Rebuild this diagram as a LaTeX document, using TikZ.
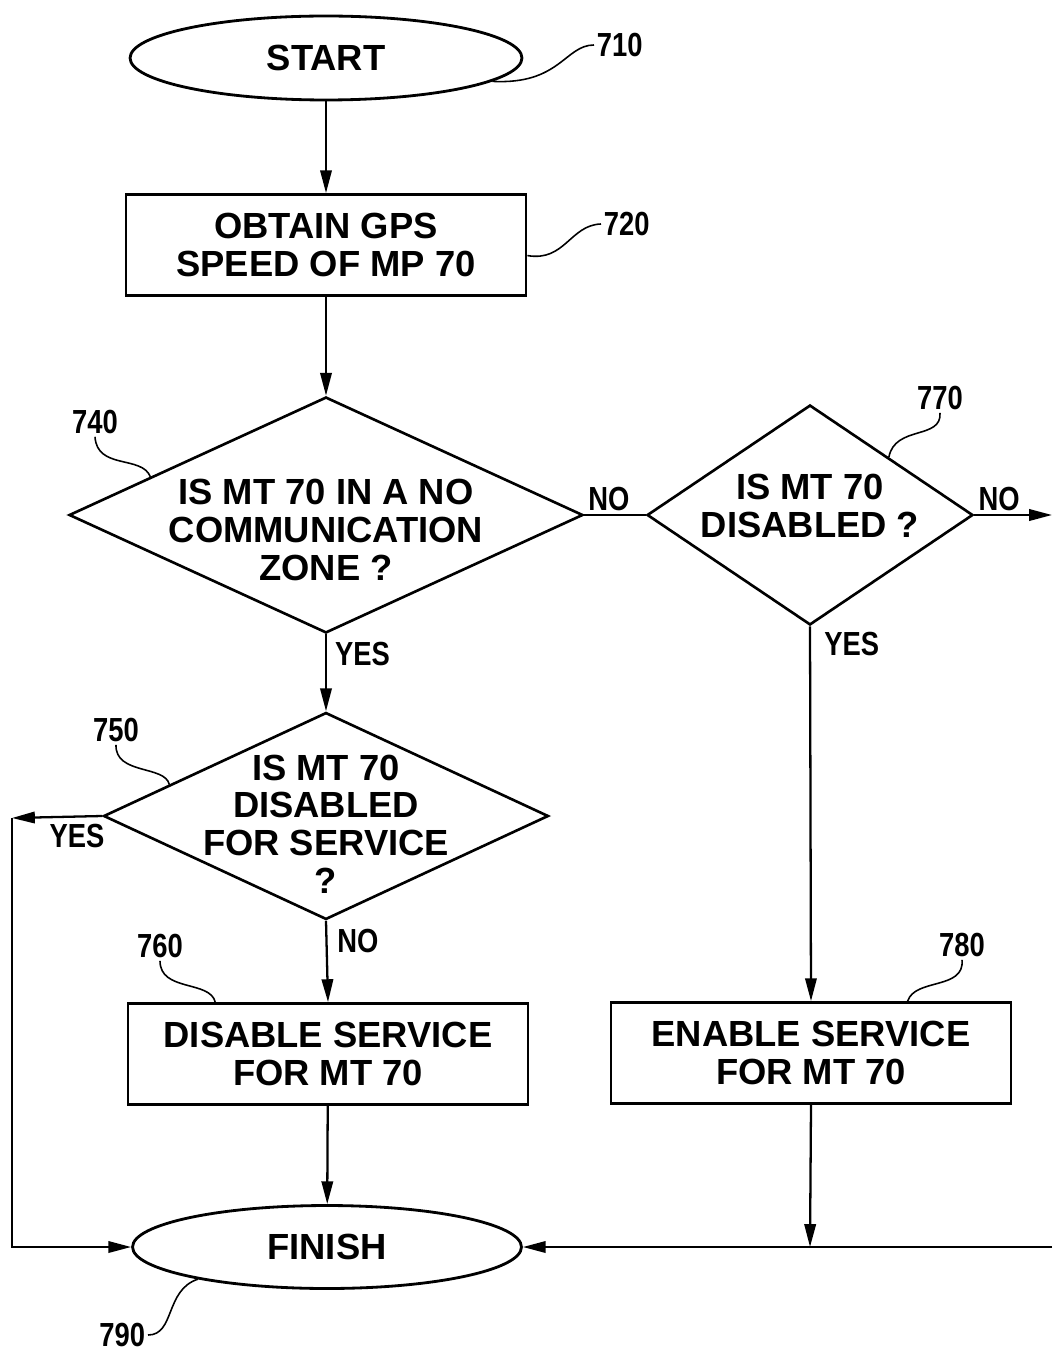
\documentclass[tikz,border=0pt]{standalone}
\usepackage{fontspec}
\setmainfont{Liberation Sans}
\newfontfamily\tagfont[FakeStretch = 0.82]{Liberation Sans}
\usetikzlibrary{shapes.geometric,arrows.meta,calc}
\begin{document}
\begin{tikzpicture}[x = 0.02cm, y = -0.02cm,
	txt/.style = {font = \fontsize{20.7}{21.5}\selectfont\bfseries, align = center, inner sep = 0pt},
	term/.style = {ellipse, draw, line width = 1.6pt, minimum width = 7.84cm, minimum height = 1.68cm, txt},
	proc/.style = {rectangle, draw, line width = 1.6pt, minimum width = 8cm, minimum height = 2.02cm, txt},
	dec/.style = {diamond, draw, line width = 1.5pt, inner sep = 0pt},
	tag/.style = {font = \tagfont\fontsize{19}{20}\selectfont\bfseries, inner sep = 1.5pt},
	arr/.style = {line width = 1.3pt, -{Triangle[length = 13pt, width = 6.5pt]}},
	lead/.style = {line width = 0.9pt}]
	\useasboundingbox (0, 0) rectangle (1052, 1351);
	% shapes
	\node[term] (s710) at (326, 58) {START};
	\node[proc] (p720) at (326, 245) {OBTAIN GPS\\SPEED OF MP 70};
	\node[dec, minimum width = 10.28cm, minimum height = 4.72cm] (d740) at (326, 515) {};
	\node[txt] (t740) at (326, 530) {IS MT 70 IN A NO\\COMMUNICATION\\ZONE ?};
	\node[dec, minimum width = 6.52cm, minimum height = 4.4cm] (d770) at (810, 515) {};
	\node[txt] (t770) at (810, 506) {IS MT 70\\DISABLED ?};
	\node[dec, minimum width = 8.9cm, minimum height = 4.14cm] (d750) at (326, 816) {};
	\node[txt] (t750) at (326, 824) {IS MT 70\\DISABLED\\FOR SERVICE\\?};
	\node[proc] (p760) at (328, 1054) {DISABLE SERVICE\\FOR MT 70};
	\node[proc] (p780) at (811, 1053) {ENABLE SERVICE\\FOR MT 70};
	\node[term, minimum width = 7.78cm, minimum height = 1.66cm] (f790) at (327, 1247) {FINISH};
	% free ends
	\coordinate (cno) at (1052, 515);
	\coordinate (cyes) at (12, 818);
	\coordinate (cjoin) at (810, 1247);
	\coordinate (cright) at (1052, 1247);
	% connectors
	\draw[arr] (s710) -- (p720);
	\draw[arr] (p720) -- (d740);
	\draw[line width = 1.3pt] (d740.east) -- node[tag, above, pos = 0.4]{NO} (d770.west);
	\draw[arr] (d770.east) -- node[tag, above, pos = 0.32]{NO} (cno);
	\draw[arr] (d740.south) -- node[tag, right, pos = 0.25, xshift = 3pt]{YES} (d750.north);
	\draw[arr] (d750.west) -- node[tag, below, pos = 0.28, yshift = -2pt]{YES} (cyes);
	\draw[arr] (cyes) |- (f790.west);
	\draw[arr] (d750.south) -- node[tag, right, pos = 0.25, xshift = 4pt]{NO} (p760.north);
	\draw[arr] (p760) -- (f790);
	\draw[arr] (d770.south) -- node[tag, anchor = north west, pos = 0, xshift = 6pt, yshift = -1pt]{YES} (p780.north);
	\draw[arr] (p780.south) -- (cjoin);
	\draw[arr] (cright) -- (f790.east);
	% reference numerals
	\node[tag, anchor = west] (l710) at (594, 45) {710};
	\node[tag, anchor = west] (l720) at (601, 224) {720};
	\node[tag] (l740) at (95, 422) {740};
	\node[tag] (l770) at (940, 398) {770};
	\node[tag] (l750) at (116, 730) {750};
	\node[tag] (l760) at (160, 946) {760};
	\node[tag] (l780) at (962, 945) {780};
	\node[tag, anchor = east] (l790) at (148, 1335) {790};
	\draw[lead] (s710.-8) .. controls (560, 85) and (565, 45) .. (l710.west);
	\draw[lead] (p720.-3) .. controls (565, 262) and (570, 225) .. (l720.west);
	\draw[lead] (l740.south) .. controls (97, 470) and (142, 455) .. ($(d740.west)!0.32!(d740.north)$);
	\draw[lead] (l770.south) .. controls (942, 440) and (895, 425) .. ($(d770.north)!0.48!(d770.east)$);
	\draw[lead] (l750.south) .. controls (115, 775) and (165, 765) .. ($(d750.west)!0.30!(d750.north)$);
	\draw[lead] (l760.south) .. controls (160, 992) and (210, 980) .. ($(p760.north west)!0.22!(p760.north east)$);
	\draw[lead] (l780.south) .. controls (965, 990) and (915, 978) .. ($(p780.north west)!0.74!(p780.north east)$);
	\draw[lead] (l790.east) .. controls (175, 1335) and (165, 1290) .. (f790.194);
\end{tikzpicture}
\end{document}
